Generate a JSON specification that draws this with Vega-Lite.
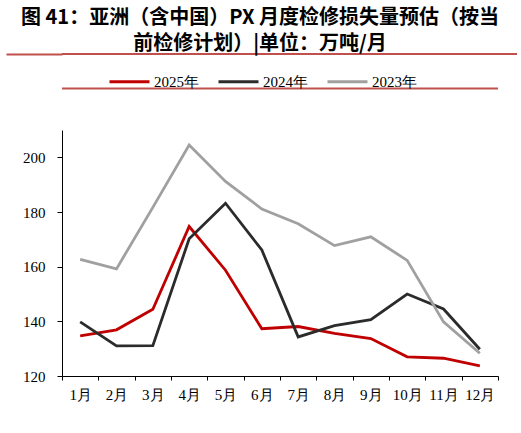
{
  "$schema": "https://vega.github.io/schema/vega-lite/v6.json",
  "background": "white",
  "padding": {"left": 5, "right": 5, "top": 8, "bottom": 0},
  "title": {
    "text": ["图 41：亚洲（含中国）PX 月度检修损失量预估（按当", "前检修计划）|单位：万吨/月"],
    "font": "Noto Sans CJK SC",
    "fontSize": 20,
    "fontWeight": "bold",
    "lineHeight": 26,
    "color": "black",
    "anchor": "start",
    "align": "center",
    "dx": 255,
    "offset": -1
  },
  "spacing": 32,
  "vconcat": [
    {
      "width": 455,
      "height": 1,
      "data": {"values": [{"v": 0}]},
      "mark": {"type": "rule", "color": "#C0504D", "strokeWidth": 2},
      "encoding": {
        "y": {
          "field": "v",
          "type": "quantitative",
          "scale": {"domain": [0, 1]},
          "axis": {
            "title": null,
            "values": [0],
            "labels": false,
            "domain": false,
            "grid": false,
            "tickSize": 56,
            "tickColor": "#C0504D",
            "tickWidth": 2,
            "minExtent": 56
          }
        }
      }
    },
    {
      "width": 436,
      "height": 246,
      "data": {
        "values": [
          {"month": "1月", "series": "2025年", "value": 134.7},
          {"month": "2月", "series": "2025年", "value": 136.9},
          {"month": "3月", "series": "2025年", "value": 144.4},
          {"month": "4月", "series": "2025年", "value": 174.7},
          {"month": "5月", "series": "2025年", "value": 158.7},
          {"month": "6月", "series": "2025年", "value": 137.3},
          {"month": "7月", "series": "2025年", "value": 138.1},
          {"month": "8月", "series": "2025年", "value": 135.6},
          {"month": "9月", "series": "2025年", "value": 133.7},
          {"month": "10月", "series": "2025年", "value": 127.0},
          {"month": "11月", "series": "2025年", "value": 126.5},
          {"month": "12月", "series": "2025年", "value": 123.7},
          {"month": "1月", "series": "2024年", "value": 139.8},
          {"month": "2月", "series": "2024年", "value": 131.0},
          {"month": "3月", "series": "2024年", "value": 131.1},
          {"month": "4月", "series": "2024年", "value": 170.2},
          {"month": "5月", "series": "2024年", "value": 183.2},
          {"month": "6月", "series": "2024年", "value": 166.1},
          {"month": "7月", "series": "2024年", "value": 134.3},
          {"month": "8月", "series": "2024年", "value": 138.4},
          {"month": "9月", "series": "2024年", "value": 140.6},
          {"month": "10月", "series": "2024年", "value": 150.0},
          {"month": "11月", "series": "2024年", "value": 144.5},
          {"month": "12月", "series": "2024年", "value": 129.8},
          {"month": "1月", "series": "2023年", "value": 162.7},
          {"month": "2月", "series": "2023年", "value": 159.2},
          {"month": "3月", "series": "2023年", "value": 181.7},
          {"month": "4月", "series": "2023年", "value": 204.5},
          {"month": "5月", "series": "2023年", "value": 191.2},
          {"month": "6月", "series": "2023年", "value": 181.1},
          {"month": "7月", "series": "2023年", "value": 175.7},
          {"month": "8月", "series": "2023年", "value": 167.7},
          {"month": "9月", "series": "2023年", "value": 170.9},
          {"month": "10月", "series": "2023年", "value": 162.3},
          {"month": "11月", "series": "2023年", "value": 139.8},
          {"month": "12月", "series": "2023年", "value": 128.3}
        ]
      },
      "layer": [
        {
          "mark": {"type": "line", "strokeWidth": 2.8},
          "encoding": {
            "x": {
              "field": "month",
              "type": "ordinal",
              "sort": ["1月", "2月", "3月", "4月", "5月", "6月", "7月", "8月", "9月", "10月", "11月", "12月"],
              "bandPosition": 0.5,
              "scale": {"type": "band", "paddingInner": 0, "paddingOuter": 0},
              "axis": {
                "title": null,
                "labelAngle": 0,
                "tickBand": "extent",
                "tickSize": 4,
                "labelPadding": 7,
                "minExtent": 31,
                "grid": false
              }
            },
            "y": {
              "field": "value",
              "type": "quantitative",
              "scale": {"domain": [120, 210], "nice": false, "zero": false},
              "axis": {
                "title": null,
                "values": [120, 130, 140, 150, 160, 170, 180, 190, 200, 210],
                "tickSize": 5,
                "labelPadding": 12,
                "minExtent": 56,
                "grid": false
              }
            },
            "color": {
              "field": "series",
              "type": "nominal",
              "scale": {
                "domain": ["2025年", "2024年", "2023年"],
                "range": ["#C00000", "#2B2B2B", "#A0A0A0"]
              },
              "legend": {
                "title": null,
                "orient": "none",
                "direction": "horizontal",
                "legendX": 46,
                "legendY": 7,
                "symbolType": "stroke",
                "symbolSize": 1600,
                "symbolStrokeWidth": 3,
                "labelFont": "Liberation Serif",
                "labelFontSize": 15,
                "labelColor": "black",
                "labelOffset": 3,
                "columnPadding": 13
              }
            }
          }
        },
        {
          "data": {"values": [{}]},
          "mark": {"type": "rule", "color": "#C0504D", "strokeWidth": 2},
          "encoding": {"y": {"datum": 225.2, "type": "quantitative"}}
        },
        {
          "data": {"values": [{}]},
          "mark": {"type": "rule", "color": "#C0504D", "strokeWidth": 2},
          "encoding": {"y": {"datum": 96.9, "type": "quantitative"}}
        }
      ]
    },
    {
      "width": 455,
      "height": 1,
      "data": {"values": [{"v": 1}]},
      "mark": {"type": "rule", "color": "#C0504D", "strokeWidth": 2},
      "encoding": {
        "y": {
          "field": "v",
          "type": "quantitative",
          "scale": {"domain": [0, 1]},
          "axis": {
            "title": null,
            "values": [1],
            "labels": false,
            "domain": false,
            "grid": false,
            "tickSize": 56,
            "tickColor": "#C0504D",
            "tickWidth": 2,
            "minExtent": 56
          }
        }
      },
      "title": {
        "text": "数据来源：卓创资讯 CCF 华泰期货研究院",
        "orient": "bottom",
        "anchor": "start",
        "font": "Noto Sans CJK SC",
        "fontSize": 15.5,
        "fontWeight": "normal",
        "color": "black",
        "dx": 12,
        "offset": 6
      }
    }
  ],
  "config": {
    "view": {"stroke": null},
    "axis": {
      "domainColor": "black",
      "tickColor": "black",
      "labelColor": "black",
      "labelFont": "Liberation Serif",
      "labelFontSize": 15,
      "domainWidth": 1,
      "tickWidth": 1
    }
  }
}
